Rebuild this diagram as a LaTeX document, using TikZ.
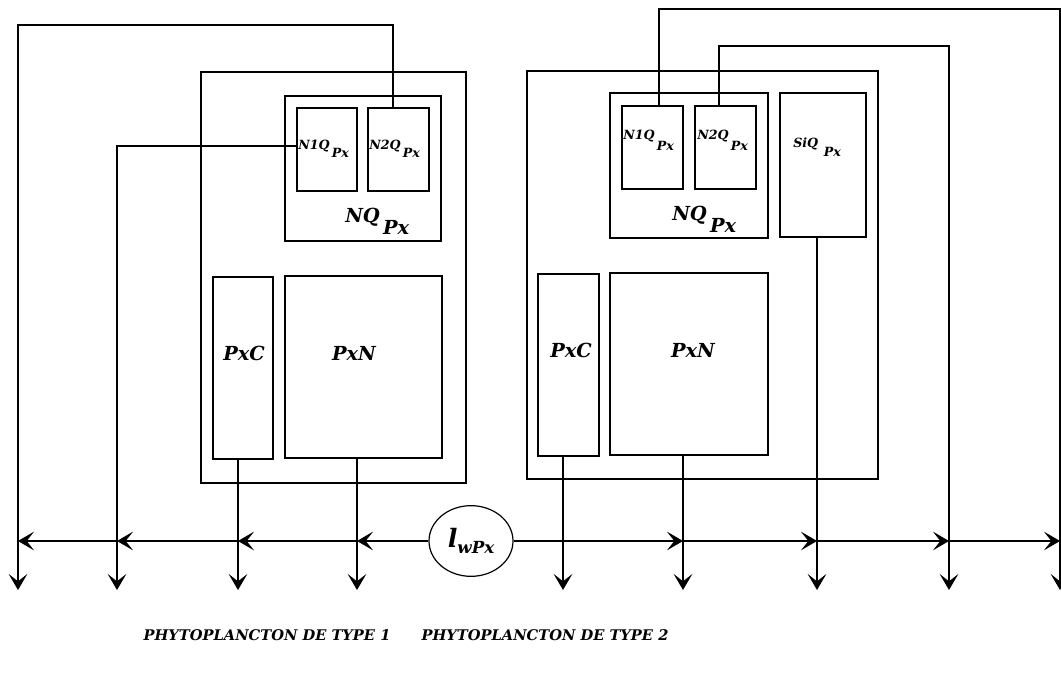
\documentclass[tikz,border=0pt]{standalone}
\usepackage{fontspec}
\setmainfont{DejaVu Serif}
\usetikzlibrary{arrows.meta,shapes.geometric,fit}
\begin{document}
\begin{tikzpicture}[x=0.75pt,y=-0.75pt,
  box/.style={draw,line width=0.9pt,inner sep=0pt,fit={#1}},
  ln/.style={line width=0.9pt},
  arr/.style={ln,-{Stealth[length=12pt,width=14pt,inset=5.5pt]}},
  big/.style={font=\fontsize{14.5}{16}\selectfont\bfseries\itshape,inner sep=0pt},
  sml/.style={font=\fontsize{9.5}{11}\selectfont\bfseries\itshape,inner sep=0pt},
  captxt/.style={font=\fontsize{11}{13}\selectfont\bfseries\itshape,inner sep=0pt},
]
\useasboundingbox (0,0) rectangle (1061,674);
% ---------- left panel ----------
\node[box={(201,72)(466,483)}] (outL) {};
\node[box={(285,96)(441,241)}] (nqL) {};
\node[box={(297,108)(357,191)}] (n1qL) {};
\node[box={(368,108)(429,191)}] (n2qL) {};
\node[box={(213,277)(273,459)}] (pxcL) {};
\node[box={(285,276)(442,458)}] (pxnL) {};
\node[sml,anchor=base west] (tn1qL) at (298,149) {N1Q\raisebox{-6pt}{\,Px}};
\node[sml,anchor=base west] (tn2qL) at (369,149) {N2Q\raisebox{-6pt}{\,Px}};
\node[big,anchor=base west] (tnqL) at (345,222) {NQ\raisebox{-9pt}{\,Px}};
\node[big,anchor=base] (tpxcL) at (244,360) {PxC};
\node[big,anchor=base] (tpxnL) at (354,360) {PxN};
% ---------- right panel ----------
\node[box={(527,71)(878,479)}] (outR) {};
\node[box={(610,93)(768,238)}] (nqR) {};
\node[box={(622,106)(683,189)}] (n1qR) {};
\node[box={(695,106)(756,189)}] (n2qR) {};
\node[box={(780,93)(866,237)}] (siq) {};
\node[box={(538,274)(599,456)}] (pxcR) {};
\node[box={(610,273)(768,455)}] (pxnR) {};
\node[sml,anchor=base west] (tn1qR) at (623,140) {N1Q\raisebox{-8pt}{\,Px}};
\node[sml,anchor=base west] (tn2qR) at (697,140) {N2Q\raisebox{-8pt}{\,Px}};
\node[sml,anchor=base west] (tsiq) at (793,147) {SiQ\raisebox{-7pt}{\;\,Px}};
\node[big,anchor=base west] (tnqR) at (672,220) {NQ\raisebox{-9pt}{\,Px}};
\node[big,anchor=base] (tpxcR) at (571,357) {PxC};
\node[big,anchor=base] (tpxnR) at (693,357) {PxN};
% ---------- ellipse ----------
\node[draw,ellipse,line width=0.9pt,minimum width=63pt,minimum height=53pt,inner sep=0pt] (ell) at (471,541)
  {\bfseries\itshape{\fontsize{19}{20}\selectfont l}{\fontsize{12.5}{14}\selectfont\raisebox{-4pt}{wPx}}};
% ---------- coordinates ----------
\coordinate (d1) at (18,590);
\coordinate (d2) at (117,590);
\coordinate (d3) at (238,590);
\coordinate (d4) at (357,590);
\coordinate (d5) at (563,590);
\coordinate (d6) at (683,590);
\coordinate (d7) at (817,590);
\coordinate (d8) at (949,590);
\coordinate (d9) at (1060,590);
\coordinate (cL1) at (117,146);
\coordinate (cL2a) at (393,25);
\coordinate (cL2b) at (18,25);
\coordinate (cR1a) at (659,9);
\coordinate (cR1b) at (1060,9);
\coordinate (cR2a) at (719,46);
\coordinate (cR2b) at (949,46);
% ---------- vertical connectors ----------
\draw[arr] (cL2a |- n2qL.north) -- (cL2a) -- (cL2b) -- (d1);
\draw[arr] (n1qL.west |- cL1) -- (cL1) -- (d2);
\draw[arr] (d3 |- pxcL.south) -- (d3);
\draw[arr] (d4 |- pxnL.south) -- (d4);
\draw[arr] (d5 |- pxcR.south) -- (d5);
\draw[arr] (d6 |- pxnR.south) -- (d6);
\draw[arr] (d7 |- siq.south) -- (d7);
\draw[arr] (cR2a |- n2qR.north) -- (cR2a) -- (cR2b) -- (d8);
\draw[arr] (cR1a |- n1qR.north) -- (cR1a) -- (cR1b) -- (d9);
% ---------- horizontal flows ----------
\draw[arr] (ell.west) -- (d4 |- ell.center);
\draw[arr] (d4 |- ell.center) -- (d3 |- ell.center);
\draw[arr] (d3 |- ell.center) -- (d2 |- ell.center);
\draw[arr] (d2 |- ell.center) -- (d1 |- ell.center);
\draw[arr] (ell.east) -- (d6 |- ell.center);
\draw[arr] (d6 |- ell.center) -- (d7 |- ell.center);
\draw[arr] (d7 |- ell.center) -- (d8 |- ell.center);
\draw[arr] (d8 |- ell.center) -- (d9 |- ell.center);
% ---------- captions ----------
\node[captxt,anchor=base] (cap1) at (267,640) {PHYTOPLANCTON DE TYPE 1};
\node[captxt,anchor=base] (cap2) at (545,640) {PHYTOPLANCTON DE TYPE 2};
\end{tikzpicture}
\end{document}
